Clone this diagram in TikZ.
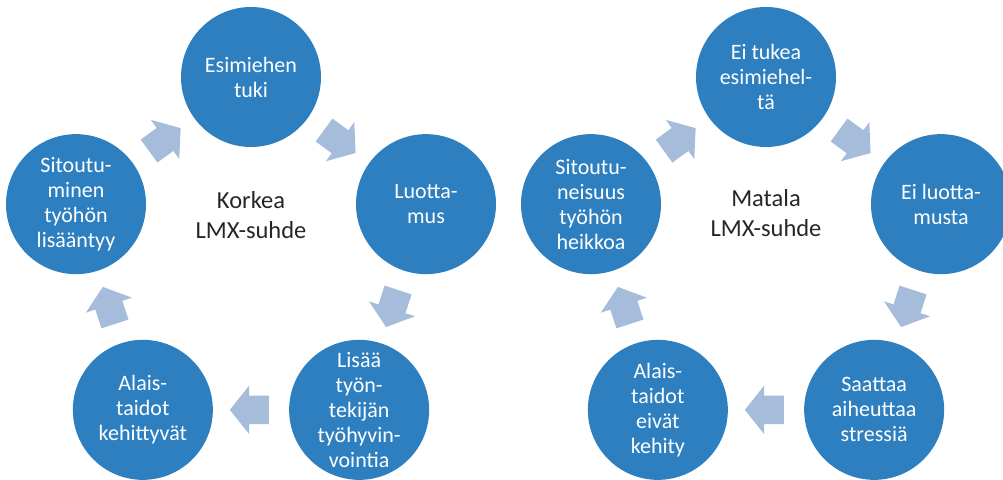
\documentclass[tikz,border=0pt]{standalone}
\usepackage{fontspec}
\setmainfont{Carlito}
\usepackage{xcolor}
\definecolor{cMain}{HTML}{2E7FBF}
\definecolor{cArrow}{HTML}{A5BDDB}
\definecolor{cText}{HTML}{262626}
\usepackage{tikz}
\usetikzlibrary{positioning,calc,shapes.arrows}
\tikzset{
  node-circle/.style={circle,fill=cMain,minimum size=140pt,inner sep=0pt},
  node-label/.style={text=white,align=center,inner sep=0pt,
    font=\fontsize{22}{25}\selectfont},
  node-center/.style={text=cText,align=center,font=\fontsize{24.5}{30}\selectfont},
  % block arrows between the circles, clockwise
  arrow-block/.style={single arrow,fill=cArrow,draw=none,
    inner xsep=0pt,inner ysep=14pt,minimum height=39pt,
    single arrow head extend=10pt,single arrow tip angle=103},
}

\begin{document}
\begin{tikzpicture}[x=1pt,y=1pt]
  \useasboundingbox (0,0) rectangle (1003,479);

  % Korkea LMX-suhde
  \coordinate (lc) at (251,218);
  \node[node-circle,label={[node-label]center:Esimiehen\\tuki}] (l-top) at ($(lc)+(90:184)$) {};
  \node[node-circle,label={[node-label]center:Luotta-\\mus}] (l-right) at ($(lc)+(18:184)$) {};
  \node[node-circle,label={[node-label]center:Lisää\\työn-\\tekijän\\työhyvin-\\vointia}] (l-bright) at ($(lc)+(-54:184)$) {};
  \node[node-circle,label={[node-label]center:Alais-\\taidot\\kehittyvät}] (l-bleft) at ($(lc)+(-126:184)$) {};
  \node[node-circle,label={[node-label]center:Sitoutu-\\minen\\työhön\\lisääntyy}] (l-left) at ($(lc)+(162:184)$) {};
  \node[node-center] (l-title) at ($(lc)+(0,46)$) {Korkea\\LMX-suhde};
  \node[arrow-block,rotate=-36,xshift=-4pt] (la1) at ($(l-top)!0.5!(l-right)$) {};
  \node[arrow-block,rotate=-108,xshift=-4pt] (la2) at ($(l-right)!0.5!(l-bright)$) {};
  \node[arrow-block,rotate=180,xshift=-4pt] (la3) at ($(l-bright)!0.5!(l-bleft)$) {};
  \node[arrow-block,rotate=108,xshift=-4pt] (la4) at ($(l-bleft)!0.5!(l-left)$) {};
  \node[arrow-block,rotate=36,xshift=-4pt] (la5) at ($(l-left)!0.5!(l-top)$) {};

  % Matala LMX-suhde
  \coordinate (rc) at (766,218);
  \node[node-circle,label={[node-label]center:Ei tukea\\esimiehel-\\tä}] (r-top) at ($(rc)+(90:184)$) {};
  \node[node-circle,label={[node-label]center:Ei luotta-\\musta}] (r-right) at ($(rc)+(18:184)$) {};
  \node[node-circle,label={[node-label]center:Saattaa\\aiheuttaa\\stressiä}] (r-bright) at ($(rc)+(-54:184)$) {};
  \node[node-circle,label={[node-label]center:Alais-\\taidot\\eivät\\kehity}] (r-bleft) at ($(rc)+(-126:184)$) {};
  \node[node-circle,label={[node-label]center:Sitoutu-\\neisuus\\työhön\\heikkoa}] (r-left) at ($(rc)+(162:184)$) {};
  \node[node-center] (r-title) at ($(rc)+(0,48)$) {Matala\\LMX-suhde};
  \node[arrow-block,rotate=-36,xshift=-4pt] (ra1) at ($(r-top)!0.5!(r-right)$) {};
  \node[arrow-block,rotate=-108,xshift=-4pt] (ra2) at ($(r-right)!0.5!(r-bright)$) {};
  \node[arrow-block,rotate=180,xshift=-4pt] (ra3) at ($(r-bright)!0.5!(r-bleft)$) {};
  \node[arrow-block,rotate=108,xshift=-4pt] (ra4) at ($(r-bleft)!0.5!(r-left)$) {};
  \node[arrow-block,rotate=36,xshift=-4pt] (ra5) at ($(r-left)!0.5!(r-top)$) {};
\end{tikzpicture}
\end{document}
